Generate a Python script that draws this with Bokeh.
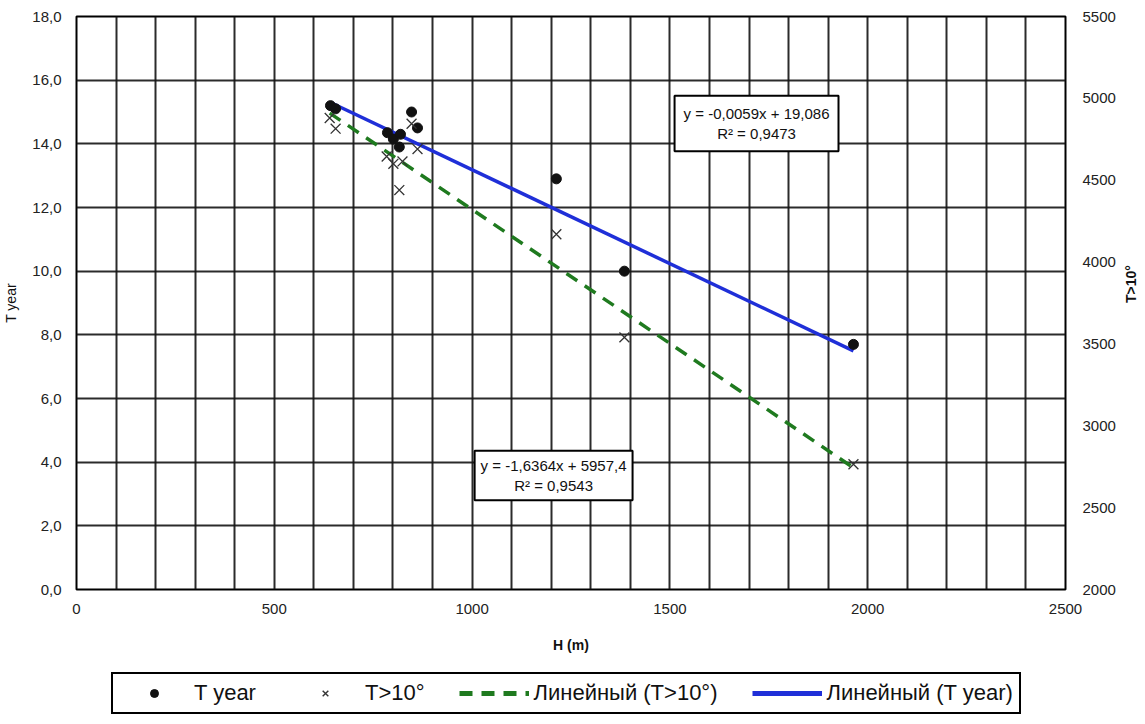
import math
from bokeh.plotting import figure
from bokeh.layouts import column
from bokeh.models import (Range1d, LinearAxis, SingleIntervalTicker, FixedTicker,
                          CustomJSTickFormatter, Legend, LegendItem, Label)
from bokeh.embed import file_html
from bokeh.resources import INLINE

# ---- data ----
H_year = [642, 655, 786, 801, 819, 816, 847, 862, 1213, 1385, 1964]
T_year = [15.2, 15.1, 14.35, 14.15, 14.3, 13.9, 15.0, 14.5, 12.9, 10.0, 7.7]
H_t10 = [640, 655, 784, 801, 824, 816, 847, 862, 1213, 1385, 1964]
T_10 = [4880, 4815, 4645, 4600, 4615, 4440, 4845, 4690, 4170, 3540, 2765]

fit_year = (-0.0059, 19.086, 0.9473)
fit_t10 = (-1.6364, 5957.4, 0.9543)

y_ticks = [0, 2, 4, 6, 8, 10, 12, 14, 16, 18]
y2_ticks = [2000, 2500, 3000, 3500, 4000, 4500, 5000, 5500]

FONT = "Liberation Sans"
BLUE = "#1f2fd8"
GREEN = "#1f7a1f"

p = figure(frame_width=989, frame_height=573, x_range=Range1d(0, 2500), y_range=Range1d(0, 18),
           output_backend="svg", toolbar_location=None,
           min_border_left=75, min_border_right=65, min_border_top=16, min_border_bottom=72)
p.extra_y_ranges = {"t10": Range1d(2000, 5500)}

p.outline_line_color = "black"
p.outline_line_width = 2
p.outline_line_alpha = 1
p.background_fill_color = "white"
p.border_fill_color = "white"

# grid
p.xgrid[0].ticker = SingleIntervalTicker(interval=100)
p.ygrid[0].ticker = FixedTicker(ticks=y_ticks)
for g in (p.xgrid[0], p.ygrid[0]):
    g.grid_line_color = "#141414"
    g.grid_line_width = 2
    g.grid_line_alpha = 0.9

# axes
xa = p.xaxis[0]
xa.ticker = SingleIntervalTicker(interval=500)
xa.axis_label = "H (m)"
xa.major_label_standoff = 8
xa.axis_label_standoff = 20

ya = p.yaxis[0]
ya.ticker = FixedTicker(ticks=y_ticks)
ya.formatter = CustomJSTickFormatter(code="return tick.toFixed(1).replace('.', ',');")
ya.axis_label = "T year"
ya.major_label_standoff = 9
ya.axis_label_standoff = 10

ra = LinearAxis(y_range_name="t10", ticker=FixedTicker(ticks=y2_ticks), axis_label="T>10°")
ra.major_label_standoff = 11
ra.axis_label_standoff = 12
ra.axis_label_orientation = math.pi / 2
p.add_layout(ra, "right")

for ax in (xa, ya, ra):
    ax.axis_line_color = None
    ax.major_tick_line_color = None
    ax.minor_tick_line_color = None
    ax.major_label_text_font = FONT
    ax.major_label_text_font_size = "15px"
    ax.major_label_text_color = "#222222"
    ax.axis_label_text_font = FONT
    ax.axis_label_text_font_size = "14px"
    ax.axis_label_text_color = "#111111"
    ax.axis_label_text_font_style = "bold"
ya.axis_label_text_font_style = "normal"

# trend lines
x_fit1 = [min(H_year), max(H_year)]
y_fit1 = [fit_year[0] * x + fit_year[1] for x in x_fit1]
x_fit2 = [min(H_t10), max(H_t10)]
y_fit2 = [fit_t10[0] * x + fit_t10[1] for x in x_fit2]

p.line(x_fit1, y_fit1, line_color=BLUE, line_width=3.5)
p.line(x_fit2, y_fit2, line_color=GREEN, line_width=3.5, line_dash="13 9", y_range_name="t10")
p.scatter(H_year, T_year, marker="circle", size=10, fill_color="#111111", line_color="#111111")
p.scatter(H_t10, T_10, marker="x", size=14, line_color="#333333", line_width=1.3,
          y_range_name="t10")

# equation labels
def fmt(v, d):
    return f"{v:.{d}f}".replace(".", ",")

lab1 = Label(x=1719, y=14.64, text=f"y = {fmt(fit_year[0], 4)}x + {fmt(fit_year[1], 3)}\nR² = {fmt(fit_year[2], 4)}",
             text_align="center", text_baseline="middle", text_font=FONT, text_font_size="15px",
             text_color="#111111", background_fill_color="white", border_line_color="black",
             border_line_width=2, padding=9)
lab2 = Label(x=1206, y=3.58, text=f"y = {fmt(fit_t10[0], 4)}x + {fmt(fit_t10[1], 1)}\nR² = {fmt(fit_t10[2], 4)}",
             text_align="center", text_baseline="middle", text_font=FONT, text_font_size="15px",
             text_color="#111111", background_fill_color="white", border_line_color="black",
             border_line_width=2, padding=6)
p.add_layout(lab1)
p.add_layout(lab2)

# ---- legend strip (proxy renderers kept outside the strip's visible range) ----
p2 = figure(width=1129, height=54, x_range=Range1d(0, 1), y_range=Range1d(0, 1),
            output_backend="svg", toolbar_location=None, x_axis_location=None,
            y_axis_location=None, min_border=0)
p2.outline_line_color = None
p2.xgrid.visible = False
p2.ygrid.visible = False
proxy = [5, 6]
l_dots = p2.scatter(proxy, proxy, marker="circle", size=11, fill_color="#111111", line_color="#111111")
l_x = p2.scatter(proxy, proxy, marker="x", size=26, line_color="#333333", line_width=1.4)
l_green = p2.line(proxy, proxy, line_color=GREEN, line_width=5, line_dash="13 9")
l_blue = p2.line(proxy, proxy, line_color=BLUE, line_width=5)

legend = Legend(items=[
    LegendItem(label="T year", renderers=[l_dots]),
    LegendItem(label="T>10°", renderers=[l_x]),
    LegendItem(label="Линейный (T>10°)", renderers=[l_green]),
    LegendItem(label="Линейный (T year)", renderers=[l_blue]),
], orientation="horizontal", location=(35, 1))
legend.border_line_color = "black"
legend.border_line_width = 2
legend.border_line_alpha = 1
legend.label_text_font = FONT
legend.label_text_font_size = "22px"
legend.label_text_color = "#111111"
legend.glyph_width = 70
legend.label_standoff = 5
legend.spacing = 34
legend.padding = 6
legend.margin = 0
p2.add_layout(legend, "center")

layout = column(p, p2)
open("out.html", "w").write(file_html(layout, INLINE))
